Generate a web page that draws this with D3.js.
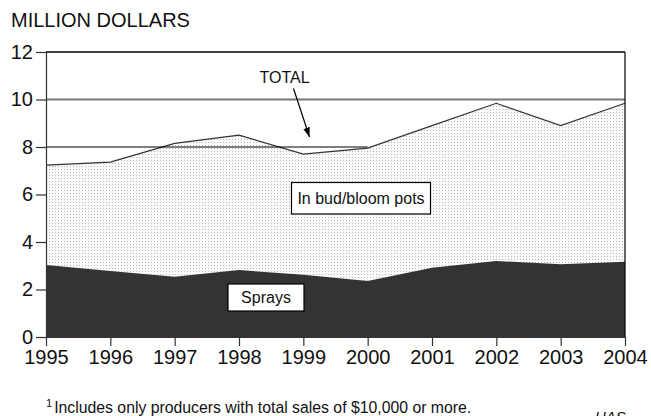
<!DOCTYPE html>
<html>
<head>
<meta charset="utf-8">
<script src="https://cdn.jsdelivr.net/npm/d3@7"></script>
<style>
  body { margin: 0; background: #fff; }
  svg text { font-family: "Liberation Sans", Arial, sans-serif; fill: #111; }
</style>
</head>
<body>
<div class="chart"></div>
<script>
var svgWidth = 651;
var svgHeight = 416;

var margin = { top: 52, right: 26, bottom: 79, left: 46 };
var width = svgWidth - margin.left - margin.right;
var height = svgHeight - margin.top - margin.bottom;

// values
var years = [1995, 1996, 1997, 1998, 1999, 2000, 2001, 2002, 2003, 2004];
var totalSales = [7.24, 7.36, 8.15, 8.5, 7.7, 7.95, 8.9, 9.84, 8.9, 9.84];
var spraySales = [3.03, 2.78, 2.54, 2.82, 2.62, 2.36, 2.92, 3.2, 3.06, 3.17];
var yTicks = [0, 2, 4, 6, 8, 10, 12];

var data = years.map((y, i) => ({ year: y, total: totalSales[i], sprays: spraySales[i] }));

var svg = d3.select(".chart")
    .append("svg")
    .attr("width", svgWidth)
    .attr("height", svgHeight);

// dotted fill for the bud/bloom pots area
var defs = svg.append("defs");
var pat = defs.append("pattern")
    .attr("id", "dots")
    .attr("patternUnits", "userSpaceOnUse")
    .attr("width", 3)
    .attr("height", 3);
pat.append("rect").attr("width", 3).attr("height", 3).attr("fill", "#fafafa");
pat.append("rect").attr("width", 1).attr("height", 1).attr("fill", "#b8b8b8");

var chartGroup = svg.append("g")
    .attr("transform", `translate(${margin.left}, ${margin.top})`);

var x = d3.scaleLinear().domain([1995, 2004]).range([0, width]);
var y = d3.scaleLinear().domain([0, 12]).range([height, 0]);

// areas
var totalArea = d3.area()
    .x(d => x(d.year))
    .y0(y(0))
    .y1(d => y(d.total));
chartGroup.append("path")
    .datum(data)
    .attr("d", totalArea)
    .attr("fill", "url(#dots)");

var sprayArea = d3.area()
    .x(d => x(d.year))
    .y0(y(0))
    .y1(d => y(d.sprays));
chartGroup.append("path")
    .datum(data)
    .attr("d", sprayArea)
    .attr("fill", "#333");

chartGroup.append("path")
    .datum(data)
    .attr("d", d3.line().x(d => x(d.year)).y(d => y(d.total)))
    .attr("fill", "none")
    .attr("stroke", "#333")
    .attr("stroke-width", 1.2);

// gridlines
chartGroup.append("line")
    .attr("x1", 0).attr("x2", width)
    .attr("y1", y(10)).attr("y2", y(10))
    .attr("stroke", "#777").attr("stroke-width", 2);
chartGroup.append("line")
    .attr("x1", 0).attr("x2", x(2000))
    .attr("y1", y(8)).attr("y2", y(8))
    .attr("stroke", "#000").attr("stroke-width", 1.2);
chartGroup.append("line")
    .attr("x1", 0).attr("x2", width)
    .attr("y1", y(12)).attr("y2", y(12))
    .attr("stroke", "#000").attr("stroke-width", 1.5);
chartGroup.append("line")
    .attr("x1", width).attr("x2", width)
    .attr("y1", y(12)).attr("y2", y(0))
    .attr("stroke", "#000").attr("stroke-width", 1.2);

// axes
var leftAxis = d3.axisLeft(y).tickValues(yTicks).tickSize(10).tickPadding(3).tickSizeOuter(0);
var yAxis = chartGroup.append("g").call(leftAxis);
yAxis.selectAll("text").style("font-size", "20px");

var bottomAxis = d3.axisBottom(x).tickValues(years).tickFormat(d3.format("d")).tickSize(9).tickPadding(4).tickSizeOuter(0);
var xAxis = chartGroup.append("g")
    .attr("transform", `translate(0, ${height})`)
    .call(bottomAxis);
xAxis.selectAll("text").style("font-size", "20px");

svg.selectAll(".domain, .tick line").attr("stroke", "#333").attr("stroke-width", 1.2);

// title
svg.append("text")
    .attr("x", 11).attr("y", 27)
    .style("font-size", "20px")
    .text("MILLION DOLLARS");

// TOTAL label with arrow
defs.append("marker")
    .attr("id", "arrow")
    .attr("viewBox", "0 0 10 10")
    .attr("refX", 10).attr("refY", 5)
    .attr("markerWidth", 8).attr("markerHeight", 8)
    .attr("orient", "auto")
    .append("path")
    .attr("d", "M0,1.5 L10,5 L0,8.5 Z")
    .attr("fill", "#000");

svg.append("text")
    .attr("x", 284.5).attr("y", 83)
    .attr("text-anchor", "middle")
    .style("font-size", "16px")
    .text("TOTAL");
svg.append("line")
    .attr("x1", 293.5).attr("y1", 88.5)
    .attr("x2", 309.5).attr("y2", 137)
    .attr("stroke", "#000").attr("stroke-width", 1.2)
    .attr("marker-end", "url(#arrow)");

// boxed labels
function boxLabel(x0, y0, w, h, label) {
    svg.append("rect")
        .attr("x", x0).attr("y", y0)
        .attr("width", w).attr("height", h)
        .attr("fill", "#fff").attr("stroke", "#000").attr("stroke-width", 1.2);
    svg.append("text")
        .attr("x", x0 + w / 2).attr("y", y0 + h / 2 + 5.5)
        .attr("text-anchor", "middle")
        .style("font-size", "16px")
        .text(label);
}
boxLabel(291.5, 182.5, 139, 31.5, "In bud/bloom pots");
boxLabel(228, 284, 76, 27, "Sprays");

// footnote
var foot = svg.append("text")
    .attr("x", 46).attr("y", 413)
    .style("font-size", "15.8px");
foot.append("tspan").attr("dy", -6).style("font-size", "11px").text("1");
foot.append("tspan").attr("dx", 2).attr("dy", 6).text("Includes only producers with total sales of $10,000 or more.");

svg.append("text")
    .attr("x", 595).attr("y", 422)
    .style("font-size", "15px")
    .style("font-style", "italic")
    .text("HAS");
</script>
</body>
</html>
